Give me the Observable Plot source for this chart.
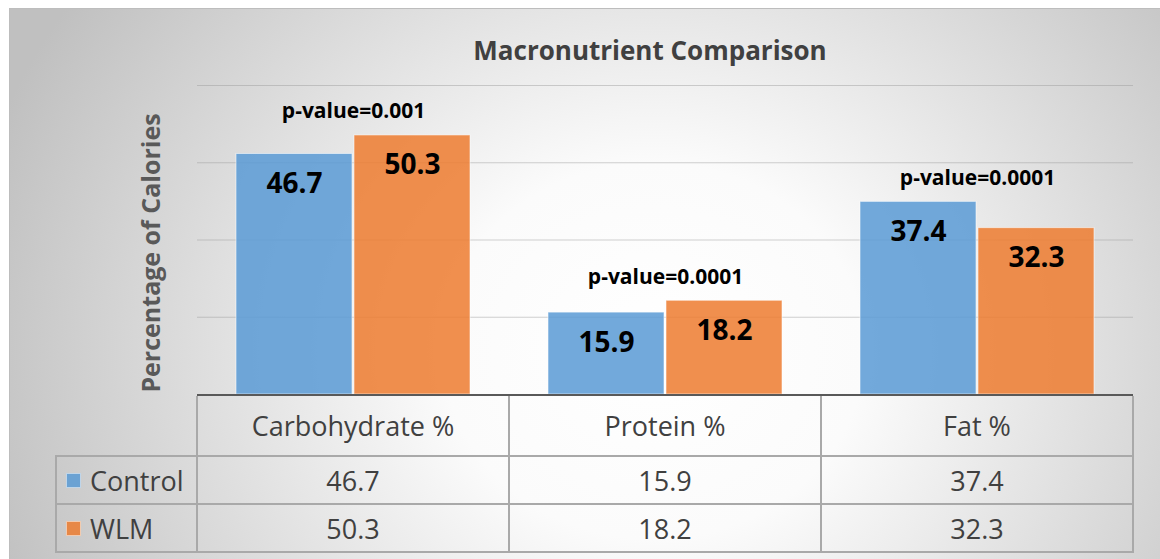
<!DOCTYPE html>
<html><head><meta charset="utf-8">
<script src="https://cdn.jsdelivr.net/npm/d3@7"></script>
<script src="https://cdn.jsdelivr.net/npm/@observablehq/plot@0.6"></script>
<style>
html,body{margin:0;padding:0;background:#fff;}
#wrap{position:relative;width:1160px;height:559px;overflow:hidden;font-family:"Open Sans",sans-serif;}
#bg{position:absolute;left:9px;top:8px;width:1170px;height:570px;border-top:1px solid #bdbdbd;border-left:1px solid #bdbdbd;
 background:radial-gradient(ellipse 60% 110% at 55% 60%, #ffffff 0%, #fbfbfb 30%, #c0c0c0 100%);}
#chart{position:absolute;left:0;top:0;}
.title{position:absolute;left:650px;top:50px;transform:translate(-50%,-50%);font-weight:bold;font-size:26px;color:#404040;white-space:nowrap;}
.ytitle{position:absolute;left:150px;top:253px;transform:translate(-50%,-50%) rotate(-90deg);font-weight:bold;font-size:25px;color:#595959;white-space:nowrap;}
.ln{position:absolute;background:#a9a9a9;}
.cell{position:absolute;display:flex;align-items:center;justify-content:center;font-size:27px;color:#404040;white-space:nowrap;}
.leg{position:absolute;display:flex;align-items:center;font-size:27px;color:#404040;white-space:nowrap;}
.sw{width:15px;height:15px;margin-right:9px;box-sizing:border-box;}
</style></head>
<body><div id="wrap"><div id="bg"></div><div id="chart"></div>
<div class="title">Macronutrient Comparison</div>
<div class="ytitle">Percentage of Calories</div>
<div id="table"></div>
</div>
<script>
const categories = ["Carbohydrate %", "Protein %", "Fat %"];
const series = ["Control", "WLM"];
const controlValues = [46.7, 15.9, 37.4];
const wlmValues = [50.3, 18.2, 32.3];
const pLabels = ["p-value=0.001", "p-value=0.0001", "p-value=0.0001"];
const gridTicks = [15, 30, 45, 60];
const colors = ["#5B9BD5", "#ED7D31"];

const rows = categories.flatMap((c, i) => [
  {category: c, series: "Control", value: controlValues[i]},
  {category: c, series: "WLM", value: wlmValues[i]}
]);
const pRows = categories.map((c, i) => ({category: c, label: pLabels[i], top: Math.max(controlValues[i], wlmValues[i])}));

const W = 1160, H = 395, ML = 196, MR = 27, MT = 85, MB = 1;
const chart = Plot.plot({
  width: W, height: H, marginLeft: ML, marginRight: MR, marginTop: MT, marginBottom: MB,
  style: {background: "transparent", overflow: "visible", fontFamily: "Open Sans, sans-serif"},
  fx: {domain: categories, padding: 0, axis: null},
  x: {domain: series, paddingInner: 0.02, paddingOuter: 0.33, axis: null},
  y: {domain: [0, 60], axis: null},
  color: {domain: series, range: colors},
  marks: [
    Plot.ruleY(gridTicks, {stroke: "#9a9a9a", strokeOpacity: 0.45, strokeWidth: 1.2}),
    Plot.barY(rows, {fx: "category", x: "series", y: "value", fill: "series", fillOpacity: 0.86, stroke: "#ffffff", strokeOpacity: 0.55, strokeWidth: 1}),
    Plot.text(rows, {fx: "category", x: "series", y: "value", text: d => d.value.toFixed(1), dy: 30, fontSize: 28, fontWeight: "bold", fill: "#000"}),
    Plot.text(pRows, {fx: "category", y: "top", text: "label", dy: -24, fontSize: 21, fontWeight: "bold", fill: "#000"})
  ]
});
document.getElementById("chart").appendChild(chart);

// data table below the plot, built from the same arrays and the fx scale
const fx = chart.scale("fx");
const table = document.getElementById("table");
function line(l, t, w, h, color) {
  const d = document.createElement("div");
  d.className = "ln";
  Object.assign(d.style, {left: l + "px", top: t + "px", width: w + "px", height: h + "px"});
  if (color) d.style.background = color;
  table.appendChild(d);
}
const colEdges = categories.map(c => fx.apply(c));
const bw = fx.bandwidth;
const left = colEdges[0];
const right = colEdges[colEdges.length - 1] + bw;
const tTop = 394, rowY = [455, 503, 551], legL = 55, legR = left - 1;
line(left, tTop, right - left, 2, "#595959");
rowY.forEach(y => line(legL, y, right - legL + 1, 2));
line(legL, rowY[0], 2, rowY[2] - rowY[0] + 2);
line(legR, tTop + 2, 2, rowY[2] - tTop);
colEdges.slice(1).forEach(x => line(x - 1, tTop + 2, 2, rowY[2] - tTop));
line(right - 1, tTop + 2, 2, rowY[2] - tTop);

function cell(text, l, t, w, h) {
  const d = document.createElement("div");
  d.className = "cell";
  Object.assign(d.style, {left: l + "px", top: t + "px", width: w + "px", height: h + "px"});
  d.textContent = text;
  table.appendChild(d);
}
categories.forEach((c, i) => {
  const x = colEdges[i];
  cell(c, x, tTop + 2, bw, rowY[0] - tTop - 2);
  cell(controlValues[i].toFixed(1), x, rowY[0] + 2, bw, rowY[1] - rowY[0] - 2);
  cell(wlmValues[i].toFixed(1), x, rowY[1] + 2, bw, rowY[2] - rowY[1] - 2);
});
series.forEach((s, i) => {
  const d = document.createElement("div");
  d.className = "leg";
  Object.assign(d.style, {left: (legL + 11) + "px", top: (rowY[i] + 2) + "px", height: (rowY[i + 1] - rowY[i] - 2) + "px"});
  const sw = document.createElement("span");
  sw.className = "sw";
  sw.style.background = colors[i];
  sw.style.opacity = 0.85;
  sw.style.border = "1px solid rgba(255,255,255,0.6)";
  d.appendChild(sw);
  const t = document.createElement("span");
  t.textContent = s;
  d.appendChild(t);
  table.appendChild(d);
});
</script>
</body></html>
